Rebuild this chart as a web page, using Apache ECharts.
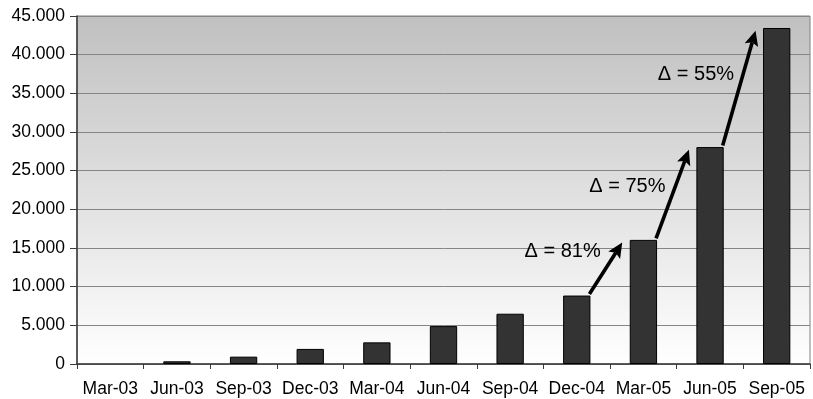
<!DOCTYPE html>
<html>
<head>
<meta charset="utf-8">
<script src="https://cdn.jsdelivr.net/npm/echarts@6/dist/echarts.min.js"></script>
<style>
  html, body { margin: 0; padding: 0; background: #ffffff; }
  #chart { width: 813px; height: 399px; }
</style>
</head>
<body>
<div id="chart"></div>
<script>
// Quarterly totals
const categories = ['Mar-03', 'Jun-03', 'Sep-03', 'Dec-03', 'Mar-04', 'Jun-04',
                    'Sep-04', 'Dec-04', 'Mar-05', 'Jun-05', 'Sep-05'];
const values = [0, 350, 950, 1950, 2800, 4900, 6500, 8850, 16050, 28050, 43450];

// Quarters whose growth to the next quarter is annotated with an arrow
const growthFrom = [7, 8, 9];

// Value axis ticks
const yMin = 0;
const yMax = 45000;
const yStep = 5000;

// Annotation layout: where along each arrow its label sits, and the gap to the arrow
const labelAlong = [0.83, 0.59, 0.62];
const labelGap = [16, 10, 9];

const FONT = '"Liberation Sans", Arial, sans-serif';
const BAR_RATIO = 0.41;

function formatThousands(v) {
  return String(v).replace(/\B(?=(\d{3})+(?!\d))/g, '.');
}

// Empty quarters get no outline, so nothing shows on the baseline
const barData = values.map(v => (v === 0 ? { value: v, itemStyle: { borderWidth: 0 } } : v));

const arrowData = growthFrom.map(i => {
  const pct = Math.round((values[i + 1] / values[i] - 1) * 100);
  return [i, values[i], values[i + 1], pct];
});

function renderArrow(params, api) {
  const k = params.dataIndex;
  const i = api.value(0);
  const a = api.value(1);
  const b = api.value(2);
  const pct = api.value(3);
  const p0 = api.coord([i, a]);
  const p1 = api.coord([i + 1, b]);
  const half = api.size([1, 0])[0] * BAR_RATIO / 2;

  const start = [p0[0] + half - 1, p0[1] - 1.5];
  const tip = [p1[0] - half - 7.5, p1[1] + 2.7];

  const dx = tip[0] - start[0];
  const dy = tip[1] - start[1];
  const len = Math.sqrt(dx * dx + dy * dy);
  const ux = dx / len, uy = dy / len;
  const headLen = 15, headHalf = 7;
  const base = [tip[0] - ux * headLen, tip[1] - uy * headLen];
  const nx = -uy, ny = ux;

  const t = labelAlong[k];
  const lx = start[0] + dx * t - labelGap[k];
  const ly = start[1] + dy * t;

  return {
    type: 'group',
    children: [
      {
        type: 'line',
        shape: { x1: start[0], y1: start[1], x2: base[0] + ux * 3, y2: base[1] + uy * 3 },
        style: { stroke: '#000000', lineWidth: 3.6, lineCap: 'butt' }
      },
      {
        type: 'polygon',
        shape: {
          points: [
            tip,
            [base[0] + nx * headHalf, base[1] + ny * headHalf],
            [base[0] + ux * 3, base[1] + uy * 3],
            [base[0] - nx * headHalf, base[1] - ny * headHalf]
          ]
        },
        style: { fill: '#000000' }
      },
      {
        type: 'text',
        x: lx,
        y: ly,
        style: {
          text: '\u0394 = ' + pct + '%',
          font: '20px ' + FONT,
          fill: '#000000',
          align: 'right',
          verticalAlign: 'middle'
        }
      }
    ]
  };
}

const chart = echarts.init(document.getElementById('chart'), null, { renderer: 'canvas' });

chart.setOption({
  animation: false,
  backgroundColor: '#ffffff',
  grid: {
    left: 77,
    right: 3,
    top: 16,
    bottom: 35,
    show: true,
    borderColor: '#808080',
    borderWidth: 1,
    backgroundColor: new echarts.graphic.LinearGradient(0, 0, 0, 1, [
      { offset: 0, color: '#c0c0c0' },
      { offset: 1, color: '#ffffff' }
    ])
  },
  xAxis: {
    type: 'category',
    data: categories,
    boundaryGap: true,
    axisLine: { show: true, lineStyle: { color: '#3a3a3a', width: 1.5 } },
    axisTick: { show: true, length: 5, lineStyle: { color: '#3a3a3a' } },
    axisLabel: {
      interval: 0,
      margin: 16,
      color: '#000000',
      fontFamily: FONT,
      fontSize: 17.5
    },
    splitLine: { show: false }
  },
  yAxis: {
    type: 'value',
    min: yMin,
    max: yMax,
    interval: yStep,
    axisLine: { show: true, lineStyle: { color: '#3a3a3a', width: 1.5 } },
    axisTick: { show: true, length: 7, lineStyle: { color: '#3a3a3a' } },
    axisLabel: {
      margin: 12,
      color: '#000000',
      fontFamily: FONT,
      fontSize: 17.5,
      formatter: formatThousands
    },
    splitLine: { show: true, lineStyle: { color: '#858585', width: 1 } }
  },
  series: [
    {
      type: 'bar',
      data: barData,
      barWidth: (BAR_RATIO * 100) + '%',
      itemStyle: { color: '#333333', borderColor: '#000000', borderWidth: 1 },
      silent: true
    },
    {
      type: 'custom',
      data: arrowData,
      renderItem: renderArrow,
      clip: false,
      silent: true,
      z: 5
    }
  ]
});
</script>
</body>
</html>
